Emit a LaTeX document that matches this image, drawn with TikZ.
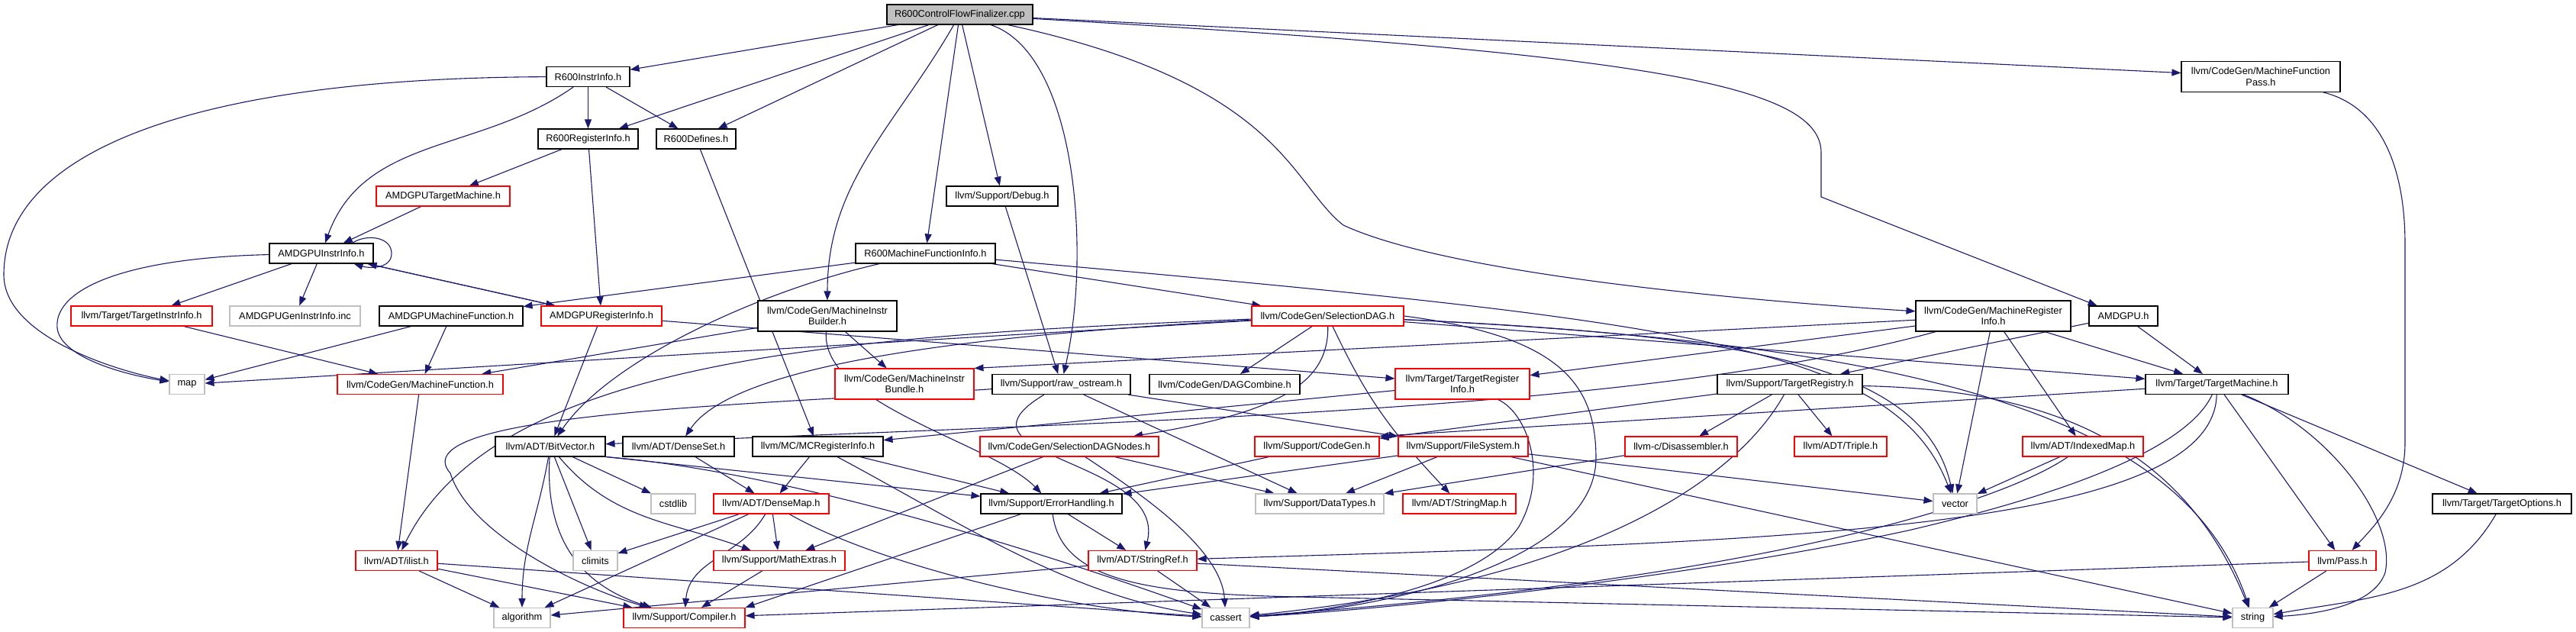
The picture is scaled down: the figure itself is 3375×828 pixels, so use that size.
\documentclass[tikz,border=0pt]{standalone}
\usepackage{fontspec}
\setmainfont{Liberation Sans}
\usetikzlibrary{arrows.meta,backgrounds}
\definecolor{edgeblue}{RGB}{25,25,112}
\definecolor{boxgrey}{RGB}{191,191,191}

\begin{document}
\begin{tikzpicture}[x=0.5pt, y=-0.5pt, >={Triangle[length=6pt,width=4.5pt]},
    fb/.style={rectangle, draw=black, line width=0.55pt, fill=white, inner sep=0pt,
               minimum height=13pt, align=center, font=\fontsize{6.4}{7.2}\selectfont},
    fr/.style={fb, draw=red},
    fg/.style={fb, draw=boxgrey},
    hd/.style={fb, fill=boxgrey},
    two/.style={minimum height=20pt},
    arr/.style={->, draw=edgeblue, line width=0.55pt}
]
\useasboundingbox (0,0) rectangle (3375,828);

% rows of files, top to bottom
\node[hd, minimum width=95.5pt] (cpp) at (1257.5,19) {R600ControlFlowFinalizer.cpp};

\node[fb, minimum width=54.5pt] (r6ii) at (770.5,100.5) {R600InstrInfo.h};
\node[fb, two, minimum width=104pt] (mfp) at (2962,100.5) {llvm/CodeGen/MachineFunction\\Pass.h};

\node[fb, minimum width=65.5pt] (r6ri) at (770.5,182) {R600RegisterInfo.h};
\node[fb, minimum width=52pt] (r6def) at (912,182) {R600Defines.h};

\node[fr, minimum width=87.5pt] (amtm) at (580.5,257) {AMDGPUTargetMachine.h};
\node[fb, minimum width=73pt] (dbg) at (1313,257) {llvm/Support/Debug.h};

\node[fb, minimum width=68pt] (amii) at (421,332) {AMDGPUInstrInfo.h};
\node[fb, minimum width=91.5pt] (r6mfi) at (1212.5,332) {R600MachineFunctionInfo.h};

\node[fr, minimum width=92.5pt] (tii) at (185.5,414) {llvm/Target/TargetInstrInfo.h};
\node[fg, minimum width=85.5pt] (gen) at (386.5,414) {AMDGPUGenInstrInfo.inc};
\node[fb, minimum width=94pt] (ammf) at (591,414) {AMDGPUMachineFunction.h};
\node[fr, minimum width=79pt] (amri) at (788,414) {AMDGPURegisterInfo.h};
\node[fb, two, minimum width=91pt] (mib) at (1084,414) {llvm/CodeGen/MachineInstr\\Builder.h};
\node[fr, minimum width=99.5pt] (sdag) at (1739.5,414) {llvm/CodeGen/SelectionDAG.h};
\node[fb, two, minimum width=101.5pt] (mri) at (2611.5,414) {llvm/CodeGen/MachineRegister\\Info.h};
\node[fb, minimum width=45pt] (amd) at (2782,414) {AMDGPU.h};

\node[fg, minimum width=23pt] (map) at (245,503.5) {map};
\node[fr, minimum width=108.5pt] (mf) at (550.5,503.5) {llvm/CodeGen/MachineFunction.h};
\node[fr, two, minimum width=91pt] (mibun) at (1185,503) {llvm/CodeGen/MachineInstr\\Bundle.h};
\node[fb, minimum width=90.5pt] (raw) at (1390.5,503.5) {llvm/Support/raw\_ostream.h};
\node[fb, minimum width=98.5pt] (dagc) at (1604.5,503.5) {llvm/CodeGen/DAGCombine.h};
\node[fr, two, minimum width=88pt] (tri) at (1916,503) {llvm/Target/TargetRegister\\Info.h};
\node[fb, minimum width=95pt] (treg) at (2345,503.5) {llvm/Support/TargetRegistry.h};
\node[fb, minimum width=93.5pt] (tm) at (2904.5,503.5) {llvm/Target/TargetMachine.h};

\node[fb, minimum width=72pt] (bv) at (721,585) {llvm/ADT/BitVector.h};
\node[fb, minimum width=73pt] (dset) at (889,585) {llvm/ADT/DenseSet.h};
\node[fb, minimum width=85.5pt] (mcri) at (1071.5,585) {llvm/MC/MCRegisterInfo.h};
\node[fr, minimum width=117pt] (sdn) at (1401,585) {llvm/CodeGen/SelectionDAGNodes.h};
\node[fr, minimum width=81.5pt] (cg) at (1725.5,585) {llvm/Support/CodeGen.h};
\node[fr, minimum width=85pt] (fs) at (1917,585) {llvm/Support/FileSystem.h};
\node[fr, minimum width=73.5pt] (dis) at (2202.5,585) {llvm-c/Disassembler.h};
\node[fr, minimum width=60.5pt] (trip) at (2411.5,585) {llvm/ADT/Triple.h};
\node[fr, minimum width=79pt] (imap) at (2729,585) {llvm/ADT/IndexedMap.h};

\node[fg, minimum width=29pt] (cstd) at (882,660) {cstdlib};
\node[fr, minimum width=75.5pt] (dmap) at (1010.5,660) {llvm/ADT/DenseMap.h};
\node[fb, minimum width=92.5pt] (eh) at (1377.5,660) {llvm/Support/ErrorHandling.h};
\node[fg, minimum width=84pt] (dt) at (1729,660) {llvm/Support/DataTypes.h};
\node[fr, minimum width=74pt] (smap) at (1912,660) {llvm/ADT/StringMap.h};
\node[fg, minimum width=28.5pt] (vec) at (2561.5,660) {vector};
\node[fb, minimum width=91pt] (topt) at (3278,660) {llvm/Target/TargetOptions.h};

\node[fr, minimum width=53.5pt] (ilist) at (519.5,734.5) {llvm/ADT/ilist.h};
\node[fg, minimum width=29pt] (clim) at (780,734.5) {climits};
\node[fr, minimum width=86pt] (mext) at (1021,734.5) {llvm/Support/MathExtras.h};
\node[fr, minimum width=71pt] (sref) at (1497,734.5) {llvm/ADT/StringRef.h};
\node[fr, minimum width=44pt] (pass) at (3069,734.5) {llvm/Pass.h};

\node[fg, minimum width=37pt] (algo) at (684,809.5) {algorithm};
\node[fr, minimum width=79.5pt] (comp) at (896.5,809.5) {llvm/Support/Compiler.h};
\node[fg, minimum width=31pt] (cass) at (1606,809.5) {cassert};
\node[fg, minimum width=26.5pt] (str) at (2951.5,809.5) {string};

\begin{scope}[on background layer]
% the .cpp file
\draw[arr] (cpp) -- (r6ii);
\draw[arr] (cpp) -- (r6ri);
\draw[arr] (cpp) -- (r6def);
\draw[arr] (cpp) to[out=-120,in=90] (mib);
\draw[arr] (cpp) -- (r6mfi);
\draw[arr] (cpp) -- (dbg);
\draw[arr] (cpp) .. controls (1410,70) and (1430,330) .. (raw);
\draw[arr] (cpp) .. controls (1680,110) and (1690,240) .. (1760,295) .. controls (1900,360) and (2300,395) .. (mri);
\draw[arr] (cpp) -- (mfp);
\draw[arr] (cpp) .. controls (2150,70) and (2386,110) .. (2386,200) -- (2386,258) -- (amd);

% R600 headers
\draw[arr] (r6ii) .. controls (250,102) and (5,200) .. (5,360) .. controls (5,440) and (150,485) .. (map);
\draw[arr] (r6ii) to[out=-145,in=70] (amii);
\draw[arr] (r6ii) -- (r6ri);
\draw[arr] (r6ii) -- (r6def);
\draw[arr] (r6ri) -- (amtm);
\draw[arr] (r6ri) -- (amri);
\draw[arr] (r6def) -- (mcri);
\draw[arr] (amtm) -- (amii);

% AMDGPU headers
\draw[arr] ([xshift=-14pt]amii.north east) .. controls (480,306) and (513,310) .. (513,332) .. controls (513,352) and (485,352) .. ([xshift=-13pt]amii.south east);
\draw[arr] (amii) .. controls (160,338) and (70,380) .. (75,430) .. controls (80,470) and (170,492) .. (map);
\draw[arr] (amii) -- (tii);
\draw[arr] (amii) -- (gen);
\draw[arr] (amii) -- (amri);
\draw[arr] (amri) -- (amii);
\draw[arr] (tii) -- (mf);
\draw[arr] (ammf) -- (map);
\draw[arr] (ammf) -- (mf);
\draw[arr] (amri) -- (bv);
\draw[arr] (amri) -- (tri);
\draw[arr] (r6mfi) -- (ammf);
\draw[arr] (r6mfi) .. controls (1000,380) and (800,470) .. (bv);
\draw[arr] (r6mfi) -- (sdag);
\draw[arr] (r6mfi) .. controls (2200,420) and (2480,450) .. (vec);
\draw[arr] (amd) -- (treg);
\draw[arr] (amd) -- (tm);
\draw[arr] (mfp) .. controls (3120,140) and (3151,220) .. (3151,320) -- (3151,580) .. controls (3151,650) and (3110,690) .. (pass);

% CodeGen
\draw[arr] (mib) -- (mf);
\draw[arr] (mib) -- (mibun);
\draw[arr] (mib) .. controls (1075,530) and (1300,580) .. (eh);
\draw[arr] (dbg) -- (raw);
\draw[arr] (mf) -- (ilist);
\draw[arr] (sdag) -- (map);
\draw[arr] (sdag) .. controls (1100,440) and (650,470) .. (ilist);
\draw[arr] (sdag) .. controls (1250,440) and (960,480) .. (dset);
\draw[arr] (sdag) -- (dagc);
\draw[arr] (sdag) .. controls (1741,500) and (1680,540) .. (sdn);
\draw[arr] (sdag) .. controls (1790,520) and (1818,560) .. (smap);
\draw[arr] (sdag) -- (tm);
\draw[arr] (sdag.east) .. controls (2040,440) and (2091,500) .. (2091,600) .. controls (2091,740) and (1800,800) .. (cass);
\draw[arr] (sdag) .. controls (2500,450) and (2860,540) .. (str);
\draw[arr] (sdag) .. controls (2300,440) and (2520,480) .. (vec);
\draw[arr] (mri) .. controls (2150,540) and (1500,550) .. (bv);
\draw[arr] (mri) -- (imap);
\draw[arr] (mri) -- (mibun.north east);
\draw[arr] (mri) -- (tm);
\draw[arr] (mri) -- (tri);
\draw[arr] (mri) -- (vec);

% Support and Target
\draw[arr] (raw) .. controls (1000,530) and (520,540) .. (590,620) .. controls (615,700) and (760,770) .. (comp);
\draw[arr] (raw) .. controls (1230,600) and (1530,600) .. (sref);
\draw[arr] (raw) -- (dt);
\draw[arr] (raw) -- (fs);
\draw[arr] (tri) -- (mcri);
\draw[arr] (tri) .. controls (2000,540) and (2030,620) .. (1990,690) .. controls (1930,780) and (1700,805) .. (cass);
\draw[arr] (treg) -- (cg);
\draw[arr] (treg) -- (dis);
\draw[arr] (treg) -- (trip);
\draw[arr] (treg) .. controls (2280,620) and (2100,760) .. (cass);
\draw[arr] (treg) .. controls (2650,510) and (2850,560) .. (str);
\draw[arr] (tm) -- (cg.north east);
\draw[arr] (tm) .. controls (2900,700) and (2300,710) .. (sref);
\draw[arr] (tm) -- (pass);
\draw[arr] (tm) -- (topt);
\draw[arr] (tm) .. controls (3050,560) and (3140,680) .. (3125,750) .. controls (3110,795) and (3030,805) .. (str);
\draw[arr] (tm) .. controls (2860,600) and (2650,660) .. (2500,695) .. controls (2200,760) and (1800,800) .. (cass);
\draw[arr] (imap) -- (vec);
\draw[arr] (imap) .. controls (2620,660) and (2300,760) .. (cass);
\draw[arr] (dis) -- (dt);
\draw[arr] (fs) -- (dt);
\draw[arr] (fs) -- (eh);
\draw[arr] (fs) -- (str);
\draw[arr] (fs) -- (vec);
\draw[arr] (cg) -- (eh);
\draw[arr] (sdn) -- (mext);
\draw[arr] (sdn) .. controls (1500,650) and (1600,720) .. (cass);
\draw[arr] (sdn) -- (dt);
\draw[arr] (eh) -- (sref);
\draw[arr] (eh) -- (comp.north east);
\draw[arr] (eh) .. controls (1390,760) and (1500,778) .. (1700,782) -- (str);
\draw[arr] (sref) -- (algo);
\draw[arr] (sref) -- (cass);
\draw[arr] (sref) -- (str);

% ADT
\draw[arr] (ilist) -- (algo);
\draw[arr] (ilist) -- (comp);
\draw[arr] (ilist) -- (cass);
\draw[arr] (bv) to[out=-100,in=90] (algo);
\draw[arr] (bv) .. controls (715,680) and (740,760) .. (comp);
\draw[arr] (bv) -- (clim);
\draw[arr] (bv) -- (cstd);
\draw[arr] (bv) to[out=-50,in=160] (mext);
\draw[arr] (bv.south east) -- (eh);
\draw[arr] (bv.south east) .. controls (1000,615) and (1300,700) .. (cass);
\draw[arr] (dset) -- (dmap);
\draw[arr] (mcri) -- (dmap);
\draw[arr] (mcri) -- (eh);
\draw[arr] (mcri) .. controls (1250,680) and (1400,780) .. (cass);
\draw[arr] (dmap) -- (mext);
\draw[arr] (dmap) to[out=-120,in=85] (comp);
\draw[arr] (dmap) -- (algo);
\draw[arr] (dmap) -- (clim);
\draw[arr] (dmap) .. controls (1150,740) and (1400,800) .. (cass);
\draw[arr] (mext) -- (comp);
\draw[arr] (pass) -- (comp);
\draw[arr] (pass) -- (str);
\draw[arr] (topt) to[out=-120,in=10] (str);
\end{scope}
\end{tikzpicture}
\end{document}
